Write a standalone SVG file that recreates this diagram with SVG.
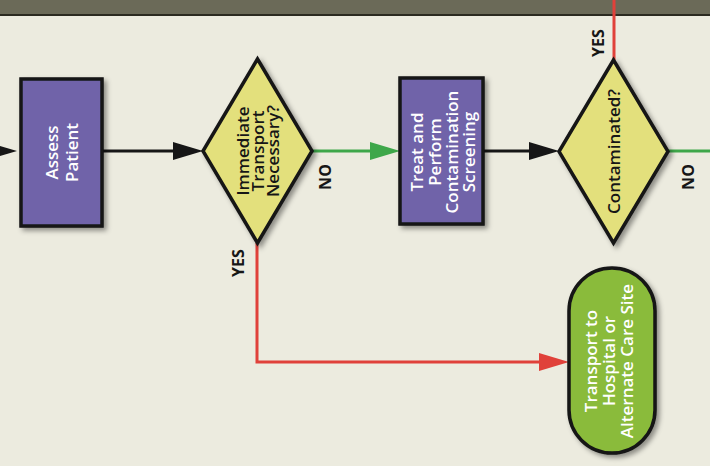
<svg xmlns="http://www.w3.org/2000/svg" width="710" height="466" viewBox="0 0 710 466">
<defs>
<style>
.bg{fill:#ecebdf}
.proc{fill:#6f64a9;stroke:#161616;stroke-width:3.5}
.dec{fill:#e3e07b;stroke:#161616;stroke-width:3.5}
.term{fill:#8abb3a;stroke:#161616;stroke-width:3.5}
.wt{font-family:"Open Sans","Noto Sans",sans-serif;font-weight:600;font-size:17px;fill:#ffffff;text-anchor:middle}
.bt{font-family:"Open Sans","Noto Sans",sans-serif;font-weight:600;font-size:17px;fill:#161616;text-anchor:middle}
.lbl{font-family:"Open Sans","Noto Sans",sans-serif;font-weight:700;font-size:16px;fill:#161616;text-anchor:middle}
.blk{fill:none;stroke:#161616;stroke-width:3}
.grn{fill:none;stroke:#3ea74a;stroke-width:3}
.red{fill:none;stroke:#e0413a;stroke-width:3}
</style>
<filter id="sh" x="-20%" y="-20%" width="150%" height="150%">
<feDropShadow dx="3" dy="3" stdDeviation="2.5" flood-color="#000" flood-opacity="0.4"/>
</filter>
<marker id="ab" viewBox="0 0 30 18" refX="4" refY="9" markerWidth="30" markerHeight="18" markerUnits="userSpaceOnUse" orient="auto"><path d="M0,0 L30,9 L0,18 Z" fill="#161616"/></marker>
<marker id="ag" viewBox="0 0 30 18" refX="4" refY="9" markerWidth="30" markerHeight="18" markerUnits="userSpaceOnUse" orient="auto"><path d="M0,0 L30,9 L0,18 Z" fill="#3ea74a"/></marker>
<marker id="ar" viewBox="0 0 30 18" refX="4" refY="9" markerWidth="30" markerHeight="18" markerUnits="userSpaceOnUse" orient="auto"><path d="M0,0 L30,9 L0,18 Z" fill="#e0413a"/></marker>
</defs>
<rect class="bg" x="0" y="0" width="710" height="466"/>
<rect x="0" y="0" width="710" height="14" fill="#6b6a58"/>
<rect x="0" y="14" width="710" height="2" fill="#2b2a20"/>

<g id="connectors">
<path class="blk" d="M-20,151 L-9,151" marker-end="url(#ab)"/>
<path class="blk" d="M102,151 L177,151" marker-end="url(#ab)"/>
<path class="grn" d="M312,151 L374,151" marker-end="url(#ag)"/>
<path class="blk" d="M483,151 L533,151" marker-end="url(#ab)"/>
<path class="grn" d="M668,151 L712,151"/>
<path class="red" d="M614,60 L614,0"/>
<path class="red" d="M257,243 L257,362 L543,362" marker-end="url(#ar)"/>
<text class="lbl" x="331" y="177" transform="rotate(-90 331 177)">NO</text>
<text class="lbl" x="694" y="177" transform="rotate(-90 694 177)">NO</text>
<text class="lbl" x="604" y="43" transform="rotate(-90 604 43)">YES</text>
<text class="lbl" x="244" y="263" transform="rotate(-90 244 263)">YES</text>
</g>

<g id="assess">
<rect class="proc" x="21" y="79" width="81" height="147" filter="url(#sh)"/>
<text class="wt" x="58" y="152.5" transform="rotate(-90 58 152.5)">Assess</text>
<text class="wt" x="78" y="152.5" transform="rotate(-90 78 152.5)">Patient</text>
</g>

<g id="immediate">
<polygon class="dec" points="257.5,59 312,151 257.5,243 203,151" filter="url(#sh)"/>
<text class="bt" x="249" y="151" transform="rotate(-90 249 151)">Immediate</text>
<text class="bt" x="264" y="151" transform="rotate(-90 264 151)">Transport</text>
<text class="bt" x="279" y="151" transform="rotate(-90 279 151)">Necessary?</text>
</g>

<g id="treat">
<rect class="proc" x="400" y="78" width="83" height="146" filter="url(#sh)"/>
<text class="wt" x="423" y="152" transform="rotate(-90 423 152)">Treat and</text>
<text class="wt" x="441" y="152" transform="rotate(-90 441 152)">Perform</text>
<text class="wt" x="458" y="152" transform="rotate(-90 458 152)">Contamination</text>
<text class="wt" x="475" y="152" transform="rotate(-90 475 152)">Screening</text>
</g>

<g id="contaminated">
<polygon class="dec" points="613.5,60 668,151.5 613.5,243 559,151.5" filter="url(#sh)"/>
<text class="bt" x="620" y="151.5" transform="rotate(-90 620 151.5)">Contaminated?</text>
</g>

<g id="transport">
<rect class="term" x="569" y="268" width="86" height="185" rx="43" ry="43" filter="url(#sh)"/>
<text class="wt" x="597" y="361" transform="rotate(-90 597 361)">Transport to</text>
<text class="wt" x="615" y="361" transform="rotate(-90 615 361)">Hospital or</text>
<text class="wt" x="633" y="361" transform="rotate(-90 633 361)">Alternate Care Site</text>
</g>
</svg>
